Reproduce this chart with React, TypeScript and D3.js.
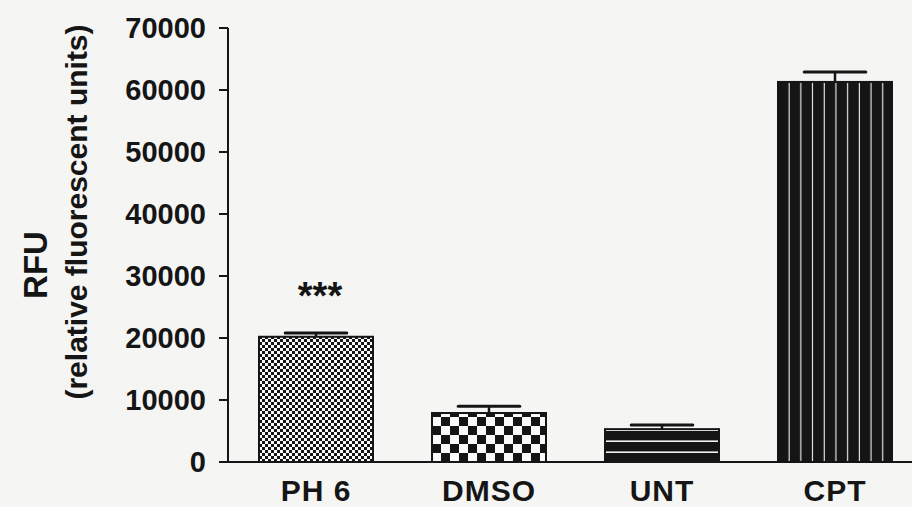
import React from 'react';
import * as d3 from 'd3';

const categories = ['PH 6', 'DMSO', 'UNT', 'CPT'];
const means = [20200, 7900, 5300, 61300];
const errors = [600, 1100, 650, 1600];
const yTicks = [0, 10000, 20000, 30000, 40000, 50000, 60000, 70000];
const significance = ['***', '', '', ''];
const patternIds = ['fineCheck', 'coarseCheck', 'hLines', 'vLines'];

const W = 912;
const H = 507;
const axisX = 228;
const y0 = 462;
const yTop = 28;

export default function App() {
  const y = d3.scaleLinear().domain([0, 70000]).range([y0, yTop]);
  const x = d3
    .scaleBand<string>()
    .domain(categories)
    .range([229.5, 921.5])
    .paddingInner(0.341)
    .paddingOuter(0.1705);
  const bw = x.bandwidth();
  const capW = bw * 0.54;
  const font = 'Liberation Sans, Arial, Helvetica, sans-serif';
  const ink = '#151515';

  return (
    <svg
      width={W}
      height={H}
      style={{ position: 'absolute', left: 0, top: 0, display: 'block' }}
    >
      <defs>
        <pattern id="fineCheck" patternUnits="userSpaceOnUse" width={6} height={6} x={x('PH 6')} y={0}>
          <rect width={6} height={6} fill="#fafafa" />
          <rect x={0} y={0} width={3} height={3} fill={ink} />
          <rect x={3} y={3} width={3} height={3} fill={ink} />
        </pattern>
        <pattern id="coarseCheck" patternUnits="userSpaceOnUse" width={18} height={18} x={x('DMSO')} y={y0}>
          <rect width={18} height={18} fill="#fafafa" />
          <rect x={0} y={0} width={9} height={9} fill={ink} />
          <rect x={9} y={9} width={9} height={9} fill={ink} />
        </pattern>
        <pattern id="hLines" patternUnits="userSpaceOnUse" width={10} height={11} x={0} y={0}>
          <rect width={10} height={11} fill={ink} />
          <rect x={0} y={0.4} width={10} height={1.6} fill="#f2f2f2" />
        </pattern>
        <pattern id="vLines" patternUnits="userSpaceOnUse" width={11.7} height={10} x={x('CPT')} y={0}>
          <rect width={11.7} height={10} fill={ink} />
          <rect x={10.6} y={0} width={1.8} height={10} fill="#f2f2f2" />
        </pattern>
      </defs>

      <rect x={0} y={0} width={W} height={H} fill="#f5f5f4" />

      {/* Y axis */}
      <line x1={axisX} x2={axisX} y1={y(70000)} y2={y0} stroke={ink} strokeWidth={2} />
      {yTicks.map((t) => (
        <g key={t}>
          <line x1={axisX - 9} x2={axisX} y1={y(t)} y2={y(t)} stroke={ink} strokeWidth={2} />
          <text
            x={axisX - 22}
            y={y(t)}
            dy="0.36em"
            textAnchor="end"
            fontFamily={font}
            fontWeight="bold"
            fontSize={29}
            fill={ink}
          >
            {t}
          </text>
        </g>
      ))}

      {/* X axis */}
      <line x1={axisX} x2={W} y1={y0} y2={y0} stroke={ink} strokeWidth={2} />

      {/* Bars */}
      {categories.map((c, i) => {
        const bx = x(c) as number;
        const top = y(means[i]);
        const cx = bx + bw / 2;
        const errTop = y(means[i] + errors[i]);
        return (
          <g key={c}>
            <line x1={cx} x2={cx} y1={top} y2={errTop} stroke={ink} strokeWidth={2.5} />
            <line
              x1={cx - capW / 2}
              x2={cx + capW / 2}
              y1={errTop}
              y2={errTop}
              stroke={ink}
              strokeWidth={3}
              strokeLinecap="round"
            />
            <rect
              x={bx}
              y={top}
              width={bw}
              height={y0 - top}
              fill={`url(#${patternIds[i]})`}
              stroke={ink}
              strokeWidth={2}
            />
            <text
              x={cx}
              y={501}
              textAnchor="middle"
              fontFamily={font}
              fontWeight="bold"
              fontSize={30}
              letterSpacing={1}
              fill={ink}
            >
              {c}
            </text>
            {significance[i] && (
              <text
                x={cx + 4}
                y={errTop - 24}
                textAnchor="middle"
                fontFamily={font}
                fontWeight="bold"
                fontSize={38}
                fill={ink}
              >
                {significance[i]}
              </text>
            )}
          </g>
        );
      })}

      {/* Y axis titles */}
      <text
        transform={`translate(47,265) rotate(-90)`}
        textAnchor="middle"
        fontFamily={font}
        fontWeight="bold"
        fontSize={33}
        fill={ink}
      >
        RFU
      </text>
      <text
        transform={`translate(87,212) rotate(-90)`}
        textAnchor="middle"
        fontFamily={font}
        fontWeight="bold"
        fontSize={30}
        fill={ink}
      >
        (relative fluorescent units)
      </text>
    </svg>
  );
}
